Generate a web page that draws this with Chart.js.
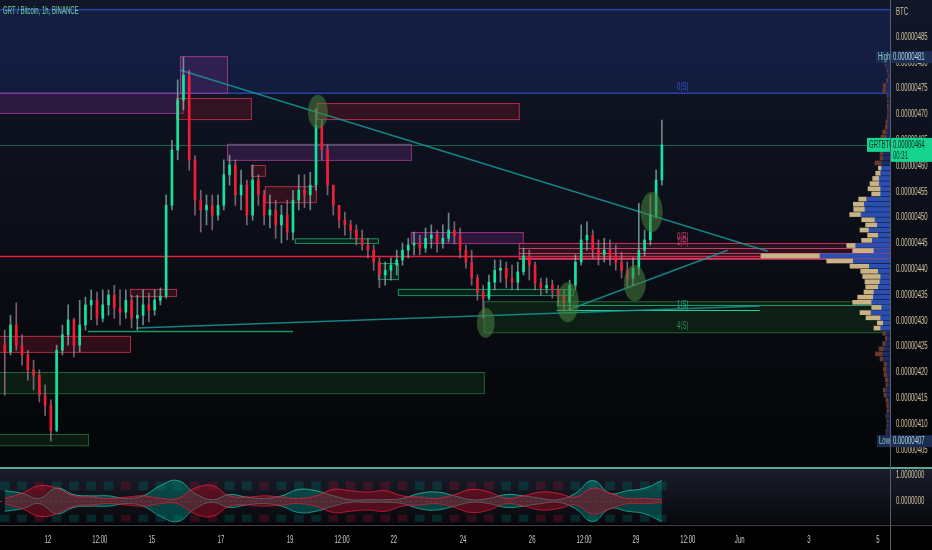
<!DOCTYPE html>
<html><head><meta charset="utf-8">
<script src="https://cdn.jsdelivr.net/npm/chart.js@4.4.1/dist/chart.umd.min.js"></script>
<style>html,body{margin:0;padding:0;background:#000;overflow:hidden}#wrap{width:932px;height:550px}</style>
</head><body><div id="wrap"><canvas id="c" width="932" height="550"></canvas></div>
<script>
// ---------- DATA (prices in satoshi, 1e-8 BTC; time in hours from 12 May 00:00) ----------
const candleStartHour = -30;
const candleHours = 4;
const firstOpen = 425.3;
const closes = [424.0,429.2,425.3,423.4,420.5,419.5,415.6,413.7,408.8,424.3,427.3,430.2,425.3,429.2,433.1,434.0,430.5,433.1,435.0,432.5,
431.7,434.0,430.5,431.1,433.1,432.1,434.0,434.8,452.4,463.1,472.8,477.6,461.2,453.4,451.5,452.4,450.5,452.4,458.3,460.2,
454.4,456.3,450.5,457.3,454.4,450.5,451.5,448.6,450.5,447.2,453.4,455.3,454.4,456.3,467.9,463.1,456.3,452.4,449.5,448.6,
447.6,446.0,444.7,443.7,441.4,438.9,439.8,440.8,441.8,443.7,444.7,445.1,444.1,446.0,446.6,445.1,446.0,447.6,446.4,443.7,
441.4,438.3,435.6,434.4,437.5,439.8,440.2,438.3,437.5,439.5,442.6,440.8,437.3,436.4,436.9,436.0,434.8,433.6,436.9,441.4,
445.7,446.6,443.7,442.8,443.7,442.6,441.4,439.8,438.3,440.2,443.7,445.7,450.5,457.3,464.1];
const highs = [428.2,431.1,433.5,427.3,424.3,422.4,420.5,417.6,414.7,425.3,429.2,433.1,430.5,434.0,434.6,436.0,435.6,436.0,436.0,436.9,
436.0,436.0,435.0,435.0,436.0,435.4,436.0,436.4,454.4,465.0,476.7,481.1,478.6,462.0,455.3,454.4,454.4,454.4,461.2,462.1,
461.2,459.2,457.3,460.2,458.3,455.3,454.4,453.4,452.4,453.4,455.3,458.3,458.3,458.8,471.2,468.9,464.1,456.3,452.4,451.1,
449.5,448.6,447.6,446.0,444.7,442.2,441.4,442.2,443.7,445.1,446.0,447.2,446.6,448.0,448.6,447.6,448.6,450.9,449.2,448.0,
444.7,443.7,438.9,436.9,438.9,441.8,441.8,441.4,440.8,441.4,444.1,443.7,441.4,438.3,438.3,437.9,436.9,436.0,437.9,442.8,
448.6,449.2,447.6,445.7,446.0,445.7,444.7,443.3,441.4,442.2,452.8,447.6,454.4,459.2,468.9];
const lows = [415.6,423.4,424.3,421.4,418.5,416.6,414.3,411.7,406.7,408.5,423.4,425.3,423.0,424.0,428.2,430.2,429.2,429.8,431.1,430.5,
429.2,430.5,428.6,428.2,429.2,429.8,431.1,433.1,434.4,451.5,461.2,470.9,459.2,450.5,447.2,448.6,447.6,449.5,451.5,456.3,
452.4,451.5,448.6,449.5,452.4,448.6,448.0,446.0,445.1,445.7,445.7,451.5,451.9,451.5,455.3,461.2,454.4,450.5,448.0,446.6,
446.0,444.7,443.7,442.2,439.8,436.4,436.9,437.9,438.9,440.8,442.2,442.8,442.8,443.3,444.1,443.3,444.1,445.3,444.9,442.2,
440.2,436.9,434.0,430.5,434.0,436.0,437.5,436.4,436.0,436.0,438.9,437.9,436.0,435.0,435.4,434.4,433.1,432.1,432.1,436.0,
440.8,443.7,442.2,440.8,441.4,440.8,439.8,438.3,436.6,436.9,438.9,442.6,444.7,449.9,456.3];

// oscillator (lower pane), envelope amplitudes every 12 h
const oscStartHour = -30;
const oscStepHours = 12;
const tealAmp = [0.4,0.3,0.1,0.5,0.25,0.2,0.2,0.1,0.2,0.6,0.8,0.3,0.05,0.25,0.15,0.1,0.2,0.45,0.4,0.2,
0.05,0.05,0.05,0.1,0.3,0.35,0.2,0.05,0.1,0.25,0.2,0.1,0.05,0.3,0.8,0.3,0.4,0.5,0.8];
const redAmp = [0.1,0.3,0.6,0.5,0.2,0.15,0.1,0.15,0.2,0.1,0.1,0.5,0.6,0.2,0.15,0.2,0.15,0.1,0.2,0.45,
0.4,0.35,0.4,0.2,0.15,0.1,0.25,0.45,0.35,0.1,0.2,0.35,0.3,0.15,0.5,0.3,0.1,0.1,0.05];
const oscBands = [[0.43,0.75],[-0.8,-0.55]];

// volume profile rows (price = vpStart + k), up (blue) and down (tan) volume
const vpStart = 406.6;
const vpUp = [2,3,3,2,2,3,1,1.3,1.7,3.3,4,2,1.7,2.7,3.3,3.3,6.7,7.3,6,4,2.7,4,9.3,6.7,9.3,19,8.3,18.3,16.7,16,
11.7,10,9.3,11.7,20.7,36.7,70,16,34.3,17.7,11.7,21,12.7,15,29,25,25.7,23.3,9.3,9.3,10.7,10.7,9.3,8.3,8.3,6.7,6.7,6,5,3.3,
3.3,2,2,1.3,1.3,1,1.5,2,4,4,1.7,1,2,4,6];
const vpDown = [1,1,1,1,1,1,2,2,2.3,2.7,2.7,2,3,3.3,3.3,2.7,3.3,7.3,5,3.3,2,3.3,6.7,6,14.7,11,10,19,15.6,10,
12.6,15,18,17.6,19.3,26.6,59,21.3,9,10.7,10.7,9,11.7,13.3,11.3,11.3,11,8,9,12.7,9.3,6.6,5,3.4,6.7,3.3,3.3,3,3,5.7,
4,2.7,2,1.3,1,1.7,1,1,3.3,2.7,1.7,1,1,1,1];
const valueArea = [428.5, 459.8];

// axes
const xMin = -33.3, xMax = 584.3;
const xTickHours = [0,36,72,120,168,204,240,288,336,372,408,444,480,528,576];
const xTickLabels = ['12','12:00','15','17','19','12:00','22','24','26','12:00','29','12:00','Jun','3','5'];
const priceTicks = [405,410,415,420,425,430,435,440,445,450,455,460,465,470,475,480,485];
const oscTicks = [0,1];
const priceMin = 401.5, priceMax = 492.17;
const oscMin = -0.9, oscMax = 1.29;

// drawings: [fromHour, toHour, topPrice, bottomPrice, kind]
const boxes = [
  [-40,600,490.4,474.2,'zone'],
  [91.6,124.2,481.3,474.2,'purple'],
  [-40,93.6,474.2,470.3,'purple'],
  [88.8,140.8,473.2,469.1,'red'],
  [186.6,326.7,472.2,469.1,'red'],
  [124.2,251.8,464.3,461.2,'purple'],
  [140.8,150.5,460.2,458.1,'red'],
  [150.5,185.9,456.1,453.0,'red'],
  [171.3,228.9,446.0,445.1,'green'],
  [251.8,329.5,447.2,445.1,'purple'],
  [228.9,242.8,441.2,438.1,'green'],
  [242.8,364.2,436.2,435.0,'green'],
  [326.7,600,445.1,442.0,'pink'],
  [302.4,600,433.8,427.8,'greenzone'],
  [-40,56.9,427.1,424.0,'red'],
  [56.9,88.8,436.2,434.8,'red'],
  [-40,302.4,420.1,416.0,'greenzone'],
  [-40,27.7,408.1,405.9,'greenzone']
];
// horizontal levels: [fromHour, toHour, price, color, width]
const levels = [
  [-40,600,442.6,'#e3223d',1.5],
  [326.7,600,444.1,'rgba(215,70,110,0.9)',1],
  [326.7,600,443.1,'rgba(215,70,110,0.9)',1],
  [326.7,600,442.2,'rgba(215,70,110,0.9)',1],
  [27.7,170.0,428.0,'rgba(30,170,110,0.9)',1.5],
  [353.0,600,433.1,'rgba(30,170,120,0.9)',1.2],
  [353.0,494.0,432.1,'rgba(40,230,160,0.9)',1.2]
];
// trend lines: [h1, p1, h2, p2]
const trendLines = [
  [91.6,478.6,499.4,443.5],
  [61.7,428.6,493.9,432.9],
  [360.7,432.1,471.7,443.7]
];
// highlight ellipses: [hour, price, rx, ry]
const ellipses = [
  [187.3,470.5,10,17],[303.8,429.6,9,15],[360.7,433.6,11,20],[407.2,437.3,11,18],[418.9,451.1,11,20]
];
// level labels: [hour, price, text, color]
const levelLabels = [
  [440.5,475.3,'0(S)','#3558c8'],
  [440.5,446.3,'0(R)','#c8386a'],
  [440.5,445.2,'1(R)','#c8386a'],
  [440.5,433.1,'1(S)','#22a982'],
  [440.5,429.0,'4(S)','#2f8a52']
];
const title = 'GRT / Bitcoin, 1h, BINANCE';
const symbol = 'GRTBTC';
const countdown = '00:31';
const priceUnit = 'BTC';

// ---------- derived ----------
const opens = closes.map((c,i)=> i===0 ? firstOpen : closes[i-1]);
const hours = closes.map((c,i)=> candleStartHour + i*candleHours);
const UP='#14e39c', DN='#f21d35';
const isUp = closes.map((c,i)=> c>=opens[i]);
const oscHours = tealAmp.map((a,i)=> oscStartHour + i*oscStepHours);
const vpPrices = vpUp.map((v,k)=> +(vpStart+k).toFixed(1));
const inVA = p => p>=valueArea[0] && p<=valueArea[1];
const FONT = "10px 'Liberation Sans', Arial, sans-serif";
const SX = 0.6;
const fmtP = v => (v/1e8).toFixed(8);

const datasets = [
  {type:'bar', label:'body', data:hours.map((h,i)=>({x:h,y:[opens[i],closes[i]]})),
   backgroundColor:isUp.map(u=>u?UP:DN), barThickness:2, minBarLength:1, grouped:false, xAxisID:'x', yAxisID:'y'},
  {type:'bar', label:'wick', data:hours.map((h,i)=>({x:h,y:[lows[i],highs[i]]})),
   backgroundColor:isUp.map(u=>u?'rgba(140,190,185,0.7)':'rgba(175,130,150,0.7)'), barThickness:1, grouped:false, xAxisID:'x', yAxisID:'y'},
];
trendLines.forEach(t=>datasets.push({type:'line', data:[{x:t[0],y:t[1]},{x:t[2],y:t[3]}], borderColor:'rgba(22,150,150,0.85)', borderWidth:1.5, pointRadius:0, xAxisID:'x', yAxisID:'y'}));
datasets.push(
  {type:'line', data:oscHours.map((h,i)=>({x:h,y:redAmp[i]})), borderColor:'rgba(235,30,60,0.8)', backgroundColor:'rgba(170,10,35,0.45)', fill:'+1', borderWidth:1, pointRadius:0, tension:0.45, xAxisID:'x', yAxisID:'yo'},
  {type:'line', data:oscHours.map((h,i)=>({x:h,y:-redAmp[i]})), borderColor:'rgba(235,30,60,0.8)', borderWidth:1, pointRadius:0, tension:0.45, fill:false, xAxisID:'x', yAxisID:'yo'},
  {type:'line', data:oscHours.map((h,i)=>({x:h,y:tealAmp[i]})), borderColor:'rgba(40,190,165,0.8)', backgroundColor:'rgba(0,130,120,0.45)', fill:'+1', borderWidth:1, pointRadius:0, tension:0.45, xAxisID:'x', yAxisID:'yo'},
  {type:'line', data:oscHours.map((h,i)=>({x:h,y:-tealAmp[i]})), borderColor:'rgba(40,190,165,0.8)', borderWidth:1, pointRadius:0, tension:0.45, fill:false, xAxisID:'x', yAxisID:'yo'}
);
oscBands.forEach(b=>datasets.push({type:'bar', data:oscHours.map(h=>({x:h,y:b})),
  backgroundColor:oscHours.map((h,i)=> tealAmp[i]>=redAmp[i]?'rgba(0,120,110,0.28)':'rgba(150,20,45,0.28)'),
  barThickness:9, grouped:false, xAxisID:'x', yAxisID:'yo'}));
datasets.push(
  {type:'bar', indexAxis:'y', data:vpPrices.map((p,k)=>({y:p,x:[0,vpUp[k]]})), backgroundColor:vpPrices.map(p=>inVA(p)?'#2a4fb0':'#1c2c62'), barThickness:4, grouped:false, xAxisID:'xv', yAxisID:'y'},
  {type:'bar', indexAxis:'y', data:vpPrices.map((p,k)=>({y:p,x:[vpUp[k],vpUp[k]+vpDown[k]]})), backgroundColor:vpPrices.map(p=>inVA(p)?'#c9b384':'#6a3a2a'), barThickness:4, grouped:false, xAxisID:'xv', yAxisID:'y'}
);

const kinds = {
  zone:['rgba(30,50,125,0.30)','#2843a8',1.5],
  purple:['rgba(95,40,115,0.38)','rgba(175,60,145,0.85)',1],
  red:['rgba(95,20,35,0.45)','rgba(205,50,80,0.85)',1],
  green:['rgba(10,60,40,0.40)','rgba(30,165,105,0.85)',1],
  greenzone:['rgba(20,62,28,0.38)','rgba(40,115,62,0.85)',1],
  pink:['rgba(120,30,60,0.30)','rgba(215,60,105,0.85)',1]
};

function ctext(ctx,txt,px,py,align,color){
  ctx.save(); ctx.translate(px,py); ctx.scale(SX,1);
  ctx.font=FONT; ctx.textBaseline='middle'; ctx.textAlign=align; ctx.fillStyle=color;
  ctx.fillText(txt,0,0); ctx.restore();
}
function tag(ctx,x,y,w,h,bg,fg,txt){
  ctx.fillStyle=bg; ctx.fillRect(x,y,w,h);
  if(txt) ctext(ctx,txt,x+2,y+h/2+0.5,'left',fg);
}

const overlay = {
  id:'overlay',
  beforeDraw(chart){
    const {ctx, scales:{y,yo}} = chart;
    ctx.save();
    ctx.fillStyle='#000'; ctx.fillRect(0,0,chart.width,chart.height);
    let g=ctx.createLinearGradient(0,y.top,0,y.bottom);
    g.addColorStop(0,'#111729'); g.addColorStop(0.45,'#0c0f19'); g.addColorStop(1,'#040507');
    ctx.fillStyle=g; ctx.fillRect(0,y.top,chart.width,y.bottom-y.top);
    g=ctx.createLinearGradient(0,yo.top,0,yo.bottom);
    g.addColorStop(0,'#1a1d2b'); g.addColorStop(1,'#08090d');
    ctx.fillStyle=g; ctx.fillRect(0,yo.top,chart.width,yo.bottom-yo.top);
    ctx.restore();
  },
  beforeDatasetsDraw(chart){
    const {ctx, chartArea:a, scales:{x,y,yo}} = chart;
    ctx.save();
    ctx.beginPath(); ctx.rect(a.left,y.top,a.right-a.left,y.bottom-y.top); ctx.clip();
    boxes.forEach(b=>{
      const k=kinds[b[4]];
      const x1=x.getPixelForValue(b[0]), x2=x.getPixelForValue(b[1]);
      const y1=y.getPixelForValue(b[2]), y2=y.getPixelForValue(b[3]);
      ctx.fillStyle=k[0]; ctx.fillRect(x1,y1,x2-x1,y2-y1);
      ctx.strokeStyle=k[1]; ctx.lineWidth=k[2]; ctx.strokeRect(x1+0.5,y1+0.5,x2-x1,y2-y1);
    });
    levels.forEach(l=>{
      const yy=Math.round(y.getPixelForValue(l[2]))+0.5;
      ctx.strokeStyle=l[3]; ctx.lineWidth=l[4];
      ctx.beginPath(); ctx.moveTo(x.getPixelForValue(l[0]),yy); ctx.lineTo(x.getPixelForValue(l[1]),yy); ctx.stroke();
    });
    const lp=Math.round(y.getPixelForValue(closes[closes.length-1]))+0.5;
    ctx.strokeStyle='rgba(30,130,90,0.7)'; ctx.lineWidth=1;
    ctx.beginPath(); ctx.moveTo(a.left,lp); ctx.lineTo(a.right,lp); ctx.stroke();
    ctx.restore();
    ctx.save();
    const z=Math.round(yo.getPixelForValue(0))+0.5;
    ctx.strokeStyle='rgba(160,160,170,0.45)'; ctx.setLineDash([2,3]);
    ctx.beginPath(); ctx.moveTo(a.left,z); ctx.lineTo(x.getPixelForValue(hours[hours.length-1]),z); ctx.stroke();
    ctx.restore();
  },
  afterDatasetsDraw(chart){
    const {ctx, scales:{x,y}} = chart;
    ctx.save();
    ellipses.forEach(e=>{
      ctx.fillStyle='rgba(72,130,60,0.55)';
      ctx.beginPath(); ctx.ellipse(x.getPixelForValue(e[0]),y.getPixelForValue(e[1]),e[2],e[3],0,0,Math.PI*2); ctx.fill();
    });
    levelLabels.forEach(l=> ctext(ctx,l[2],x.getPixelForValue(l[0]),y.getPixelForValue(l[1]),'center',l[3]));
    ctx.restore();
  },
  afterDraw(chart){
    const {ctx, chartArea:a, scales:{x,y,yo}} = chart;
    ctx.save();
    ctx.fillStyle='#5fa592'; ctx.fillRect(0,Math.round(yo.top)-1,chart.width,2);
    ctx.fillStyle='#5b5e68'; ctx.fillRect(Math.round(a.right),0,1,chart.height);
    ctx.fillStyle='#3e4149'; ctx.fillRect(0,Math.round(x.top)+1,chart.width,1);
    x.ticks.forEach((t,i)=> ctext(ctx,xTickLabels[i],x.getPixelForValue(t.value),540,'center','#c9cbd1'));
    priceTicks.forEach(v=> ctext(ctx,fmtP(v),896,y.getPixelForValue(v),'left','#cfc39c'));
    oscTicks.forEach(v=> ctext(ctx,v.toFixed(7),896,yo.getPixelForValue(v),'left','#cfc39c'));
    ctext(ctx,priceUnit,896,12,'left','#cfc39c');
    ctext(ctx,title,3,11,'left','#6fd2a8');
    const hi=Math.max(...highs), lo=Math.min(...lows), last=closes[closes.length-1];
    let yy=y.getPixelForValue(hi);
    tag(ctx,876,yy-6,14,12,'#1d2c52','#7fc6c6','High');
    tag(ctx,891,yy-6,41,12,'#1d2c52','#a6d8d8',fmtP(hi));
    yy=y.getPixelForValue(lo);
    tag(ctx,877,yy-6,13,12,'#1d2c52','#7fc6c6','Low');
    tag(ctx,891,yy-6,41,12,'#1d2c52','#a6d8d8',fmtP(lo));
    yy=y.getPixelForValue(last);
    tag(ctx,867,yy-7,23,14,'#16d38f','#0a2d20',symbol);
    tag(ctx,891,yy-7,41,24,'#16d38f','#0a2d20','');
    ctext(ctx,fmtP(last),893,yy,'left','#0a2d20');
    ctext(ctx,countdown,893,yy+11,'left','#0a2d20');
    ctx.restore();
  }
};

const noPadX = s=>{s.paddingLeft=0; s.paddingRight=0;};
new Chart(document.getElementById('c').getContext('2d'), {
  type:'bar',
  data:{datasets},
  options:{
    responsive:false, animation:false, devicePixelRatio:1,
    layout:{padding:0},
    plugins:{legend:{display:false}, tooltip:{enabled:false}},
    scales:{
      x:{type:'linear', position:'bottom', min:xMin, max:xMax, offset:false,
        afterBuildTicks:s=>{s.ticks=xTickHours.map(v=>({value:v}));},
        afterFit:s=>{s.height=26; noPadX(s);},
        ticks:{display:false}, grid:{display:false, drawTicks:false, offset:false}, border:{display:false}},
      xv:{type:'linear', position:'bottom', display:false, min:0, max:890, reverse:true, offset:false, beginAtZero:false,
        afterFit:s=>{s.height=0; noPadX(s);}, ticks:{display:false}, grid:{offset:false}},
      y:{type:'linear', position:'right', stack:'pane', stackWeight:468, min:priceMin, max:priceMax, offset:false, beginAtZero:false,
        afterBuildTicks:s=>{s.ticks=priceTicks.map(v=>({value:v}));},
        afterFit:s=>{s.width=42; s.paddingTop=0; s.paddingBottom=0;},
        ticks:{display:false}, grid:{display:false, drawTicks:false, offset:false}, border:{display:false}},
      yo:{type:'linear', position:'right', stack:'pane', stackWeight:56, min:oscMin, max:oscMax, offset:false, beginAtZero:false,
        afterBuildTicks:s=>{s.ticks=oscTicks.map(v=>({value:v}));},
        afterFit:s=>{s.width=42; s.paddingTop=0; s.paddingBottom=0;},
        ticks:{display:false}, grid:{display:false, drawTicks:false}, border:{display:false}}
    }
  },
  plugins:[overlay]
});
</script></body></html>
